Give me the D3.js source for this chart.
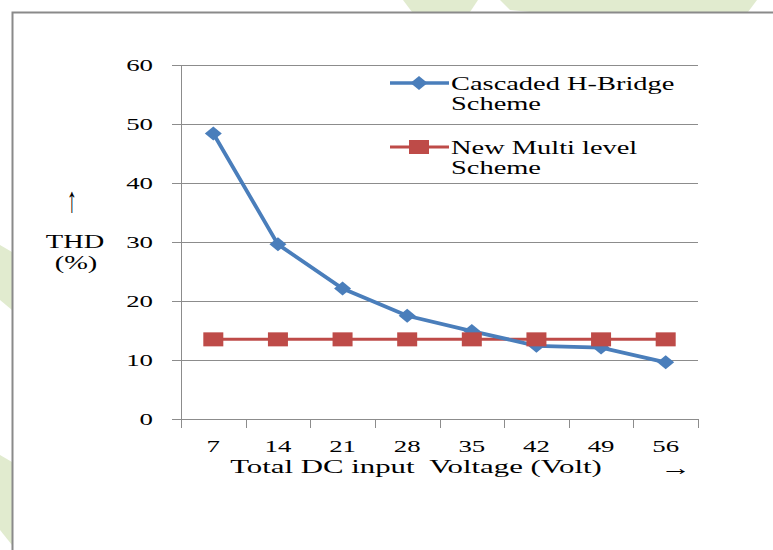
<!DOCTYPE html>
<html lang="en">
  <head>
    <meta charset="UTF-8" />
    <title>THD vs Total DC input Voltage</title>
    <script src="https://cdn.jsdelivr.net/npm/d3@7/dist/d3.min.js"></script>
    <style>
      body {
        margin: 0;
        padding: 0;
        background: #fff;
      }
      text {
        font-family: "Liberation Serif", "Times New Roman", serif;
        fill: #000;
        white-space: pre;
      }
    </style>
  </head>
  <body>
    <svg id="chart"></svg>

    <script>
      // data
      const voltages = ["7", "14", "21", "28", "35", "42", "49", "56"];
      const cascaded = [48.4, 29.6, 22.1, 17.5, 14.9, 12.4, 12.1, 9.6];
      const newMulti = [13.5, 13.5, 13.5, 13.5, 13.5, 13.5, 13.5, 13.5];
      const yTicks = [0, 10, 20, 30, 40, 50, 60];
      const seriesNames = [
        ["Cascaded H-Bridge", "Scheme"],
        ["New Multi level", "Scheme"],
      ];

      const width = 773;
      const height = 550;
      const sx = 1.58; // the original picture is stretched sideways

      const svg = d3
        .select("#chart")
        .attr("width", width)
        .attr("height", height)
        .style("display", "block");

      // pale green shapes behind the frame
      const bgShapes = [
        [[403, 0], [478, 0], [470, 12], [412, 12]],
        [[500, 0], [757, 0], [748, 12], [530, 12], [510, 10]],
        [[0, 245], [12, 252], [12, 310], [0, 300]],
        [[0, 455], [12, 462], [12, 545], [0, 530]],
      ];
      svg
        .selectAll(".bg")
        .data(bgShapes)
        .enter()
        .append("polygon")
        .attr("class", "bg")
        .attr("points", (d) => d.map((p) => p.join(",")).join(" "))
        .attr("fill", "#e1ebcf");

      // frame
      svg
        .append("rect")
        .attr("x", 12.5)
        .attr("y", 12.5)
        .attr("width", width)
        .attr("height", height)
        .attr("fill", "#fff")
        .attr("stroke", "#8a8a8a")
        .attr("stroke-width", 2);

      const pLeft = 181,
        pRight = 698,
        pTop = 65,
        pBottom = 419;

      const x = d3.scaleBand().domain(voltages).range([pLeft, pRight]);
      const y = d3.scaleLinear().domain([0, 60]).range([pBottom, pTop]);

      // y axis + gridlines
      const yAxis = svg
        .append("g")
        .attr("transform", `translate(${pRight},0)`)
        .call(
          d3
            .axisLeft(y)
            .tickValues(yTicks)
            .tickSize(pRight - pLeft + 9)
            .tickPadding(19)
        );
      yAxis.select(".domain").remove();
      yAxis
        .selectAll(".tick line")
        .attr("stroke", "#8c8c8c")
        .attr("stroke-width", 1);
      yAxis.selectAll(".tick text").each(function () {
        const t = d3.select(this);
        const tx = +t.attr("x");
        t.attr("x", 0)
          .attr("transform", `translate(${tx},0) scale(${sx},1)`)
          .attr("font-size", 17)
          .attr("font-family", "Liberation Serif");
      });

      // vertical axis line
      svg
        .append("line")
        .attr("x1", pLeft + 0.5)
        .attr("x2", pLeft + 0.5)
        .attr("y1", pTop)
        .attr("y2", pBottom + 9)
        .attr("stroke", "#8c8c8c");

      // x axis: ticks between categories
      const bounds = voltages.map((v) => x(v)).concat([pRight]);
      svg
        .selectAll(".xtick")
        .data(bounds.slice(1))
        .enter()
        .append("line")
        .attr("class", "xtick")
        .attr("x1", (d) => Math.round(d) + 0.5)
        .attr("x2", (d) => Math.round(d) + 0.5)
        .attr("y1", pBottom)
        .attr("y2", pBottom + 9)
        .attr("stroke", "#8c8c8c");

      svg
        .selectAll(".xlab")
        .data(voltages)
        .enter()
        .append("text")
        .attr("class", "xlab")
        .attr(
          "transform",
          (d) => `translate(${x(d) + x.bandwidth() / 2},452) scale(${sx},1)`
        )
        .attr("text-anchor", "middle")
        .attr("font-size", 17)
        .text((d) => d);

      // axis titles
      function stretchedText(tx, ty, str, size, anchor, k) {
        return svg
          .append("text")
          .attr("transform", `translate(${tx},${ty}) scale(${k || sx},1)`)
          .attr("text-anchor", anchor || "start")
          .attr("font-size", size)
          .text(str);
      }
      stretchedText(416, 473, "Total DC input  Voltage (Volt)", 19.5, "middle");
      stretchedText(676, 475, "\u2192", 22, "middle", 1.4).attr(
        "font-family",
        "DejaVu Sans"
      );
      stretchedText(72, 212, "\u2191", 36, "middle", 0.55).attr(
        "font-family",
        "DejaVu Sans"
      );
      stretchedText(75, 248, "THD", 18, "middle");
      stretchedText(76, 269, "(%)", 18, "middle");

      // lines
      const cx = (i) => x(voltages[i]) + x.bandwidth() / 2;
      const line = d3
        .line()
        .x((d, i) => cx(i))
        .y((d) => y(d));

      const blue = "#4a7ebb";
      const red = "#be4b48";

      svg
        .append("path")
        .datum(newMulti)
        .attr("d", line)
        .attr("fill", "none")
        .attr("stroke", red)
        .attr("stroke-width", 3);

      svg
        .append("path")
        .datum(cascaded)
        .attr("d", line)
        .attr("fill", "none")
        .attr("stroke", blue)
        .attr("stroke-width", 3.8);

      const diamond = (px, py) =>
        `M${px - 8.5},${py} L${px},${py - 7} L${px + 8.5},${py} L${px},${py + 7} Z`;

      svg
        .selectAll(".dia")
        .data(cascaded)
        .enter()
        .append("path")
        .attr("class", "dia")
        .attr("d", (d, i) => diamond(cx(i), y(d)))
        .attr("fill", blue);

      svg
        .selectAll(".sq")
        .data(newMulti)
        .enter()
        .append("rect")
        .attr("class", "sq")
        .attr("x", (d, i) => cx(i) - 10)
        .attr("y", (d) => y(d) - 7)
        .attr("width", 20)
        .attr("height", 14)
        .attr("fill", red);

      // legend
      const legend = svg.append("g");
      const legY = [83, 147];
      legend
        .append("line")
        .attr("x1", 390)
        .attr("x2", 449)
        .attr("y1", legY[0])
        .attr("y2", legY[0])
        .attr("stroke", blue)
        .attr("stroke-width", 3.5);
      legend
        .append("path")
        .attr("d", diamond(419, legY[0]))
        .attr("fill", blue);
      legend
        .append("line")
        .attr("x1", 390)
        .attr("x2", 449)
        .attr("y1", legY[1])
        .attr("y2", legY[1])
        .attr("stroke", red)
        .attr("stroke-width", 3);
      legend
        .append("rect")
        .attr("x", 409)
        .attr("y", legY[1] - 7)
        .attr("width", 20)
        .attr("height", 14)
        .attr("fill", red);

      seriesNames.forEach((lines, k) => {
        lines.forEach((s, j) => {
          stretchedText(451, legY[k] + 7 + j * 20, s, 18, "start");
        });
      });
    </script>
  </body>
</html>
